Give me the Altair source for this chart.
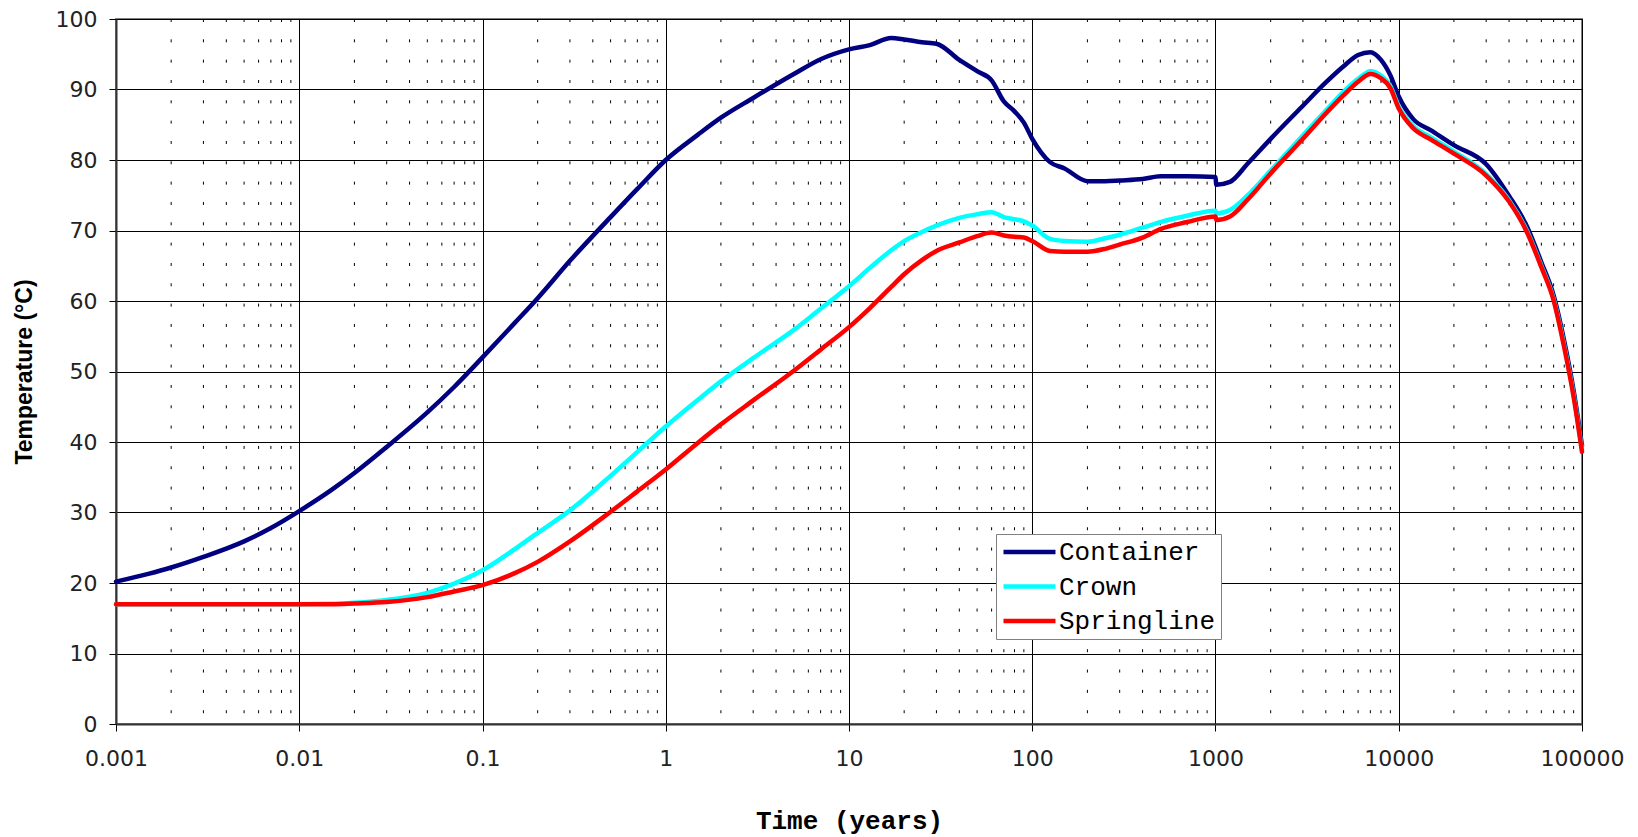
import altair as alt
import pandas as pd

# Time axis shared by all three temperature histories (years)
time_years = [
    0.001, 0.0015, 0.002, 0.003, 0.005, 0.007,
    0.01, 0.015, 0.02, 0.03, 0.05, 0.07,
    0.1, 0.15, 0.2, 0.3, 0.5, 0.7,
    1, 1.5, 2, 3, 5, 7,
    10, 13, 17, 20, 25, 30, 40, 50, 60, 70, 80, 90,
    100, 125, 150, 200, 250, 300, 400, 500, 700,
    1000, 1010, 1200, 1500, 2000, 3000, 4000, 5000, 6000, 7000, 8000, 9000,
    10000, 12000, 15000, 20000, 30000, 40000, 50000, 60000, 70000, 80000, 90000,
    100000,
]

container = [
    20.2, 21.3, 22.2, 23.7, 25.9, 27.8,
    30.2, 33.2, 35.6, 39.3, 44.2, 47.8,
    52.0, 56.9, 60.4, 65.7, 71.9, 75.9,
    80.0, 83.6, 86.0, 88.8, 92.2, 94.3,
    95.7, 96.3, 97.3, 97.1, 96.7, 96.5, 94.2, 92.6, 91.3, 88.3, 86.9, 85.3,
    83.0, 79.7, 78.8, 77.0, 77.0, 77.1, 77.3, 77.7, 77.7,
    77.6, 76.5, 76.9, 79.5, 83.0, 87.7, 91.0, 93.3, 94.9, 95.3, 94.2, 92.0,
    89.0, 85.8, 84.2, 82.1, 79.4, 74.9, 70.6, 65.5, 60.8, 54.3, 47.3,
    39.5,
]

crown = [
    17.0, 17.0, 17.0, 17.0, 17.0, 17.0,
    17.0, 17.05, 17.2, 17.6, 18.6, 19.9,
    21.8, 24.8, 27.1, 30.3, 35.2, 38.6,
    42.2, 46.0, 48.6, 51.9, 55.9, 58.9,
    62.1, 64.7, 67.2, 68.5, 69.8, 70.7, 71.8, 72.3, 72.6, 71.9, 71.6, 71.3,
    70.7, 68.8, 68.5, 68.4, 68.9, 69.4, 70.4, 71.2, 72.1,
    72.8, 72.4, 72.9, 75.0, 78.5, 83.5, 87.0, 89.7, 91.5, 92.6, 92.0, 90.5,
    87.6, 84.8, 83.2, 81.2, 78.0, 74.3, 70.0, 65.0, 60.3, 53.7, 46.7,
    38.9,
]

springline = [
    17.0, 17.0, 17.0, 17.0, 17.0, 17.0,
    17.0, 17.0, 17.1, 17.3, 18.0, 18.8,
    19.7, 21.4, 23.0, 25.9, 30.1, 33.0,
    36.1, 39.9, 42.5, 45.9, 50.1, 53.1,
    56.3, 59.0, 62.0, 63.8, 65.8, 67.1, 68.3, 69.2, 69.7, 69.3, 69.1, 69.0,
    68.5, 67.1, 67.0, 67.0, 67.4, 68.0, 69.0, 70.2, 71.2,
    72.0, 71.5, 72.0, 74.4, 78.1, 83.0, 86.6, 89.2, 91.1, 92.2, 91.6, 90.2,
    87.3, 84.5, 82.9, 80.9, 77.8, 74.1, 69.8, 64.8, 60.1, 53.4, 46.4,
    38.6,
]

series_names = ["Container", "Crown", "Springline"]
series_colors = ["#000080", "#00FFFF", "#FF0000"]

decades = [0.001, 0.01, 0.1, 1, 10, 100, 1000, 10000, 100000]
temp_ticks = list(range(0, 101, 10))

rows = []
for name, values in zip(series_names, [container, crown, springline]):
    for t, v in zip(time_years, values):
        rows.append({"time": t, "temp": v, "series": name})
df = pd.DataFrame(rows)

# Minor log gridlines (2..9 within each decade)
minor = pd.DataFrame({"t": [m * d for d in decades[:-1] for m in range(2, 10)]})

W, H = 1466, 705

x_scale = alt.Scale(type="log", domain=[0.001, 100000], nice=False)
y_scale = alt.Scale(domain=[0, 100], nice=False)

x_axis = alt.Axis(
    values=decades,
    format="~g",
    title="Time (years)",
    titleFont="Liberation Mono",
    titleFontSize=26,
    titleFontWeight="bold",
    titleColor="black",
    titleBaseline="alphabetic",
    titleY=104,
    labelFont="DejaVu Sans",
    labelFontSize=22,
    labelColor="#222222",
    labelPadding=17,
    labelFlush=False,
    labelOverlap=False,
    tickColor="black",
    tickSize=7,
    grid=True,
    gridColor="black",
    gridWidth=1,
    domainColor="#333333",
    domainWidth=2,
)

y_axis = alt.Axis(
    values=temp_ticks,
    title="Temperature (°C)",
    titleFont="Liberation Sans",
    titleFontSize=23,
    titleFontWeight="bold",
    titleColor="black",
    titleBaseline="middle",
    titleX=-92,
    titleY=H / 2,
    labelFont="DejaVu Sans",
    labelFontSize=22,
    labelColor="#222222",
    labelPadding=12,
    tickColor="black",
    tickSize=7,
    grid=True,
    gridColor="black",
    gridWidth=1,
    domainColor="#333333",
    domainWidth=2,
)

minor_grid = alt.Chart(minor).mark_rule(
    color="black", strokeWidth=1, strokeDash=[3, 17.33]
).encode(
    x=alt.X("t:Q", scale=x_scale, axis=x_axis),
    y=alt.value(0),
    y2=alt.value(H),
)

lines = alt.Chart(df).mark_line(
    strokeWidth=4.5, interpolate="monotone", strokeCap="round", strokeJoin="round"
).encode(
    x=alt.X("time:Q", scale=x_scale, axis=x_axis),
    y=alt.Y("temp:Q", scale=y_scale, axis=y_axis),
    color=alt.Color(
        "series:N",
        scale=alt.Scale(domain=series_names, range=series_colors),
        legend=alt.Legend(
            title=None,
            orient="none",
            legendX=880,
            legendY=515,
            fillColor="white",
            strokeColor="#808080",
            padding=5,
            labelFont="Liberation Mono",
            labelFontSize=26,
            labelColor="black",
            labelOffset=1,
            symbolType="stroke",
            symbolSize=2704,
            symbolStrokeWidth=4.5,
            clipHeight=26,
            rowPadding=8.5,
        ),
    ),
)

chart = alt.layer(minor_grid, lines).properties(
    width=W,
    height=H,
    autosize="none",
    padding={"left": 116, "top": 19, "right": 56, "bottom": 113},
    background="white",
).configure_view(stroke="#808080", strokeWidth=2)

chart.save("out.html", embed_options={"renderer": "svg", "actions": False})
